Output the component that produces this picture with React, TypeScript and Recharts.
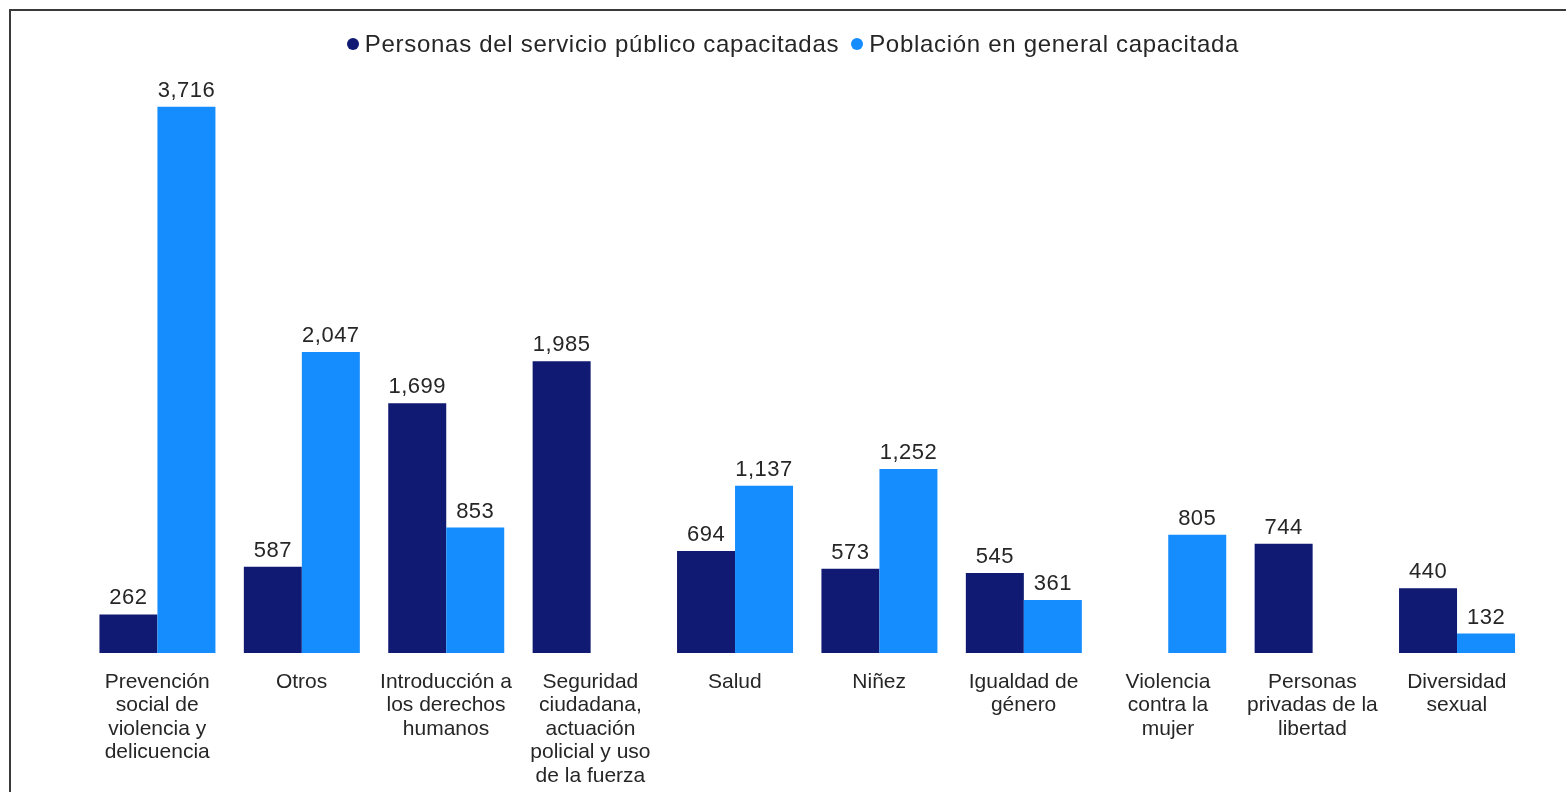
import React from 'react';
import { BarChart, Bar, XAxis, YAxis, LabelList } from 'recharts';

const categories = [
  'Prevención social de violencia y delicuencia',
  'Otros',
  'Introducción a los derechos humanos',
  'Seguridad ciudadana, actuación policial y uso de la fuerza',
  'Salud',
  'Niñez',
  'Igualdad de género',
  'Violencia contra la mujer',
  'Personas privadas de la libertad',
  'Diversidad sexual',
];

// how each category label wraps under the axis
const categoryLines = [
  ['Prevención', 'social de', 'violencia y', 'delicuencia'],
  ['Otros'],
  ['Introducción a', 'los derechos', 'humanos'],
  ['Seguridad', 'ciudadana,', 'actuación', 'policial y uso', 'de la fuerza'],
  ['Salud'],
  ['Niñez'],
  ['Igualdad de', 'género'],
  ['Violencia', 'contra la', 'mujer'],
  ['Personas', 'privadas de la', 'libertad'],
  ['Diversidad', 'sexual'],
];

const servidores = [262, 587, 1699, 1985, 694, 573, 545, null, 744, 440];
const poblacion = [3716, 2047, 853, null, 1137, 1252, 361, 805, null, 132];

const seriesNames = ['Personas del servicio público capacitadas', 'Población en general capacitada'];
const DARK = '#101a72';
const LIGHT = '#158dfe';
const FONT = '"Liberation Sans", Arial, sans-serif';
const TEXT = '#262626';

const data = categories.map((name, i) => ({
  name,
  servidores: servidores[i],
  poblacion: poblacion[i],
}));

const CategoryTick = (props: any) => {
  const { x, y, index } = props;
  const lines = categoryLines[index] || [];
  return (
    <g transform={`translate(${x},${y})`}>
      {lines.map((line, i) => (
        <text
          key={i}
          x={0}
          y={27 + i * 23.4}
          textAnchor="middle"
          fontSize={21}
          fontFamily={FONT}
          fill={TEXT}
        >
          {line}
        </text>
      ))}
    </g>
  );
};

const fmt = (v: any) => (v == null ? '' : Number(v).toLocaleString('en-US'));

const labelStyle = { fontSize: 22, letterSpacing: 0.5, fontFamily: FONT, fill: TEXT };

export default function App() {
  return (
    <div>
      <div
        style={{
          position: 'fixed',
          left: 9,
          top: 9,
          right: -10,
          bottom: -10,
          borderLeft: '2px solid #3a3a3a',
          borderTop: '2px solid #3a3a3a',
        }}
      />
      <div style={{ position: 'fixed', left: 0, top: 0 }}>
        <BarChart
          width={1566}
          height={792}
          data={data}
          margin={{ top: 65, right: 37, bottom: 109, left: 85 }}
          barCategoryGap="10%"
          barGap={0}
        >
          <XAxis
            dataKey="name"
            axisLine={false}
            tickLine={false}
            interval={0}
            height={30}
            tick={<CategoryTick />}
          />
          <YAxis hide domain={[0, 4000]} />
          <Bar dataKey="servidores" name={seriesNames[0]} fill={DARK} isAnimationActive={false}>
            <LabelList dataKey="servidores" position="top" offset={10} formatter={fmt} style={labelStyle} />
          </Bar>
          <Bar dataKey="poblacion" name={seriesNames[1]} fill={LIGHT} isAnimationActive={false}>
            <LabelList dataKey="poblacion" position="top" offset={10} formatter={fmt} style={labelStyle} />
          </Bar>
        </BarChart>
      </div>
      {/* legend */}
      <div
        style={{
          position: 'fixed',
          top: 30,
          left: 10,
          width: 1566,
          display: 'flex',
          justifyContent: 'center',
          alignItems: 'center',
          fontFamily: FONT,
          fontSize: 24,
          letterSpacing: 0.7,
          color: TEXT,
          gap: 12,
        }}
      >
        {seriesNames.map((s, i) => (
          <span key={s} style={{ display: 'flex', alignItems: 'center' }}>
            <span
              style={{
                width: 12,
                height: 12,
                borderRadius: 6,
                background: i === 0 ? DARK : LIGHT,
                display: 'inline-block',
                marginRight: 6,
              }}
            />
            {s}
          </span>
        ))}
      </div>
    </div>
  );
}
